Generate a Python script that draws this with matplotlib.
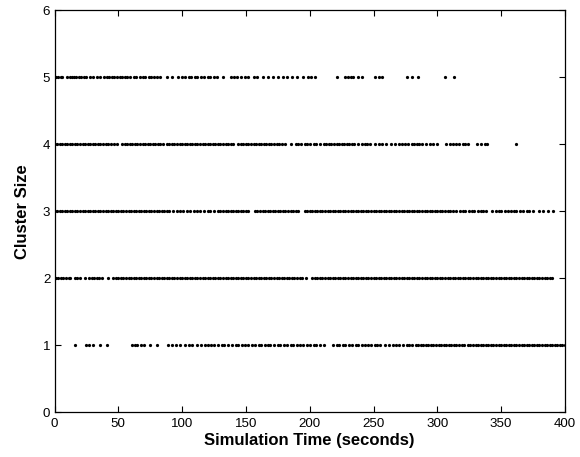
import matplotlib
matplotlib.use("Agg")
import matplotlib.pyplot as plt

# times (s) at which a cluster of each size was observed
size5_times = [1, 3, 5, 6, 10, 12, 14, 15, 17, 19, 21, 23, 25, 28, 30, 33, 36,
               39, 41, 43, 45, 47, 49, 51, 53, 55, 57, 59, 62, 64, 67, 69, 71, 74, 76, 78, 80,
               83, 88, 92, 97, 100, 102, 105, 107, 110, 112, 115, 117, 120, 122, 125, 127,
               132, 138, 141, 143, 146, 149, 152, 156, 159, 163, 167, 171, 175, 179, 182, 186, 190,
               195, 199, 201, 204, 221, 228, 230, 232, 234, 238, 241, 251, 254, 257,
               276, 280, 285, 306, 313]

size4_times = [0, 2, 4, 6, 8, 10, 12, 14, 16, 18, 20, 22, 24, 26, 28, 30, 32, 34, 36, 38, 40, 42, 44, 47,
               49, 53, 55, 57, 59, 61, 63, 65, 67, 69, 71, 73, 75, 77, 79, 81, 83, 85,
               88, 90, 92, 94, 96, 98, 100, 102, 104, 106, 108, 110, 112, 114, 116, 118, 120,
               122, 124, 126, 128, 130, 132, 134, 136, 138, 140,
               144, 146, 148, 150, 152, 154, 156, 158, 160, 162, 164, 166, 168, 170, 172, 174, 176, 178, 181,
               185, 189, 191, 193, 196, 198, 200, 203, 205, 208,
               211, 213, 215, 217, 219, 221, 223, 225, 227, 229, 231, 233, 235, 238,
               241, 243, 245, 247, 251, 254, 257, 260,
               264, 267, 270, 272, 275, 277, 280, 282, 284, 286, 288, 291, 294, 297, 300,
               307, 310, 312, 315, 317, 320, 322, 324, 331, 334, 337, 339, 362]

size3_times = [0, 2, 4, 6, 8, 10, 12, 14, 16, 18, 20, 22, 24, 26, 28, 30, 32, 34, 36, 38, 40, 42, 44,
               46, 48, 50, 52, 54, 56, 58, 60, 62, 64, 66, 68, 70, 72, 74, 76, 78, 80, 82, 84, 86, 88, 90,
               93, 96, 98, 101, 104, 106, 109, 112, 114, 117, 120, 122, 125, 128, 130,
               132, 134, 136, 138, 140, 142, 144, 146, 148, 150, 152,
               157, 159, 161, 163, 165, 167, 169, 171, 173, 175, 177, 179, 181, 183, 185, 187, 189, 191,
               196, 198, 200, 202, 204, 206, 208, 210, 212, 214, 216, 218, 220, 222, 224, 226, 228, 230,
               232, 234, 236, 238, 240, 242, 244, 246, 248, 250, 252, 254, 256, 258, 260, 262, 264, 266,
               268, 270, 272, 274, 276, 278, 280, 282, 284, 286, 288, 290, 292, 294, 296, 298, 300, 302,
               304, 306, 308, 310, 312,
               315, 318, 320, 322, 325, 327, 329, 332, 334, 336, 338,
               343, 346, 348, 350, 353, 355, 358, 360, 362, 365, 367, 370, 372, 375,
               380, 383, 387, 391]

size2_times = [1, 3, 5, 7, 9, 11, 12, 16, 18, 20, 24, 27, 29, 31, 33, 35, 37, 42,
               46, 48, 50, 52, 54, 56, 58, 60, 62, 64, 66, 68, 70, 72, 74, 76, 78, 80, 82, 84, 86, 88,
               90, 92, 94, 96, 98, 100, 102, 104, 106, 108, 110, 112, 114, 116, 118, 120, 122, 124, 126,
               128, 130, 132, 134, 136, 138, 140, 142, 144, 146, 148, 150, 152, 154, 156, 158, 160, 162,
               164, 166, 168, 170, 172, 174, 176, 178, 180, 182, 184, 186, 188, 190, 192, 194, 197,
               202, 204, 206, 208, 210, 212, 214, 216, 218, 220, 222, 224, 226, 228, 230, 232, 234, 236,
               238, 240, 242, 244, 246, 248, 250, 252, 254, 256, 258, 260, 262, 264, 266, 268, 270, 272,
               274, 276, 278, 280, 282, 284, 286, 288, 290, 292, 294, 296, 298, 300, 302, 304, 306, 308,
               310, 312, 314, 316, 318, 320, 322, 324, 326, 328, 330, 332, 334, 336, 338, 340, 342, 344,
               346, 348, 350, 352, 354, 356, 358, 360, 362, 364, 366, 368, 370, 372, 374, 376, 378, 380,
               382, 384, 386, 388, 390]

size1_times = [16, 25, 27, 30, 36, 41, 61, 63, 65, 68, 70, 75, 80, 89, 92, 95, 98,
               102, 105, 108, 112, 115, 118, 120, 123, 125, 128, 131, 133, 136,
               139, 142, 144, 147, 149, 152, 155, 157, 160, 162, 165, 167, 169,
               172, 175, 177, 180, 182, 185, 187, 190, 192, 195, 198, 200, 203, 205, 208, 211,
               218, 221, 223, 226, 228, 231, 233, 236, 238, 241, 243, 246, 248, 251, 253, 255,
               259, 262, 265, 268, 270, 273, 276, 278, 280,
               283, 285, 287, 289, 291, 293, 295, 297, 299, 301, 303, 305, 307, 309, 311, 313, 315,
               317, 319, 321, 324, 326, 328, 330, 332, 334, 336, 338, 340, 342, 344, 346, 348, 350,
               352, 354, 356, 358, 360, 362, 364, 366, 368, 370, 372, 374, 376, 378, 380, 382, 384,
               386, 388, 390, 392, 394, 396, 398, 400]

all_sizes = [1, 2, 3, 4, 5]
all_times = [size1_times, size2_times, size3_times, size4_times, size5_times]

plt.rcParams["font.family"] = ["Liberation Sans", "DejaVu Sans"]

fig = plt.figure(figsize=(5.8, 4.57), dpi=100)
ax = fig.add_axes([0.094, 0.098, 0.880, 0.880])

for size, times in zip(all_sizes, all_times):
    ax.plot(times, [size] * len(times), linestyle="none", marker=".",
            markersize=2.6, color="black")

ax.set_xlim(0, 400)
ax.set_ylim(0, 6)
ax.set_xticks(range(0, 401, 50))
ax.set_yticks(range(0, 7))
ax.tick_params(direction="in", length=4, width=0.8, labelsize=9.6,
               top=True, right=True, pad=3)
ax.tick_params(axis="x", pad=4)
for spine in ax.spines.values():
    spine.set_linewidth(0.9)
ax.set_xlabel("Simulation Time (seconds)", fontsize=12, fontweight="bold", labelpad=2)
ax.set_ylabel("Cluster Size", fontsize=12, fontweight="bold", labelpad=9)

fig.savefig("out.png", dpi=100)
